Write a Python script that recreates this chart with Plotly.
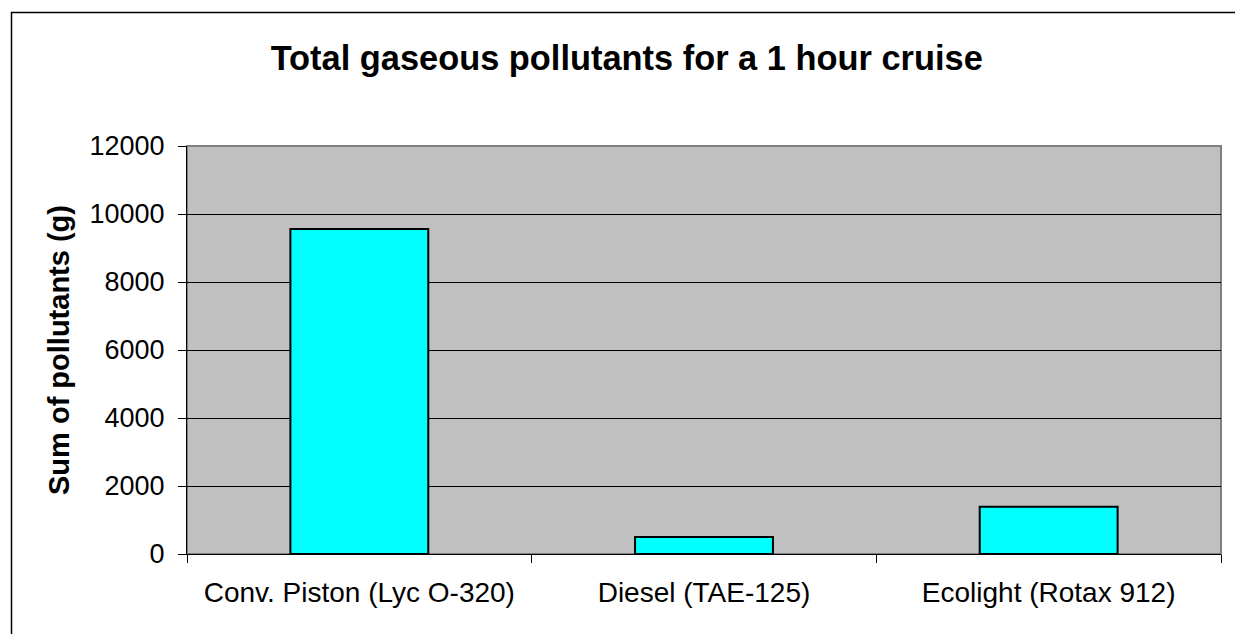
import plotly.graph_objects as go

categories = ["Conv. Piston (Lyc O-320)", "Diesel (TAE-125)", "Ecolight (Rotax 912)"]
values = [9560, 500, 1390]
y_ticks = [0, 2000, 4000, 6000, 8000, 10000, 12000]

FONT = "Liberation Sans, Arial, sans-serif"
OFF = 8  # default page body margin
W, H = 1243 - OFF, 634 - OFF
ML, MR, MT, MB = 187 - OFF, 22, 146 - OFF, 80
pw = W - ML - MR
ph = H - MT - MB

def px_to_paper_x(px):
    return (px - OFF - ML) / pw

def px_to_paper_y(py):
    return (H - MB - (py - OFF)) / ph

fig = go.Figure()
fig.add_trace(go.Bar(
    x=categories, y=values,
    marker=dict(color="#00FFFF", line=dict(color="black", width=2)),
))

fig.update_layout(
    width=W, height=H,
    margin=dict(l=ML, r=MR, t=MT, b=MB, pad=0),
    paper_bgcolor="white",
    plot_bgcolor="#C0C0C0",
    bargap=0.6,
    showlegend=False,
    font=dict(family=FONT, color="black"),
    title=dict(
        text="<b>Total gaseous pollutants for a 1 hour cruise</b>",
        font=dict(family=FONT, size=34.4, color="black"),
        x=(626.7 - OFF) / W, xref="container", xanchor="center",
        y=1 - (58 - OFF) / H, yref="container", yanchor="middle",
    ),
    xaxis=dict(
        type="category",
        showgrid=False,
        ticks="outside", ticklen=8, tickcolor="black", tickwidth=1,
        tickson="boundaries",
        showline=True, linecolor="black", linewidth=1,
        tickfont=dict(family=FONT, size=28, color="black"),
        ticklabelstandoff=13,
    ),
    yaxis=dict(
        range=[0, 12000],
        tickvals=y_ticks,
        ticktext=[str(v) for v in y_ticks],
        showgrid=True, gridcolor="black", gridwidth=1,
        ticks="outside", ticklen=8, tickcolor="black", tickwidth=1,
        showline=True, linecolor="black", linewidth=1,
        zeroline=False,
        tickfont=dict(family=FONT, size=27, color="black"),
        ticklabelstandoff=8,
        title=dict(text="<b>Sum of pollutants (g)</b>",
                   font=dict(family=FONT, size=29, color="black"),
                   standoff=11),
    ),
    shapes=[
        dict(type="rect", xref="paper", yref="paper", x0=0, x1=1, y0=0, y1=1,
             line=dict(color="#808080", width=2), layer="below"),
        dict(type="rect", xref="paper", yref="paper",
             x0=px_to_paper_x(11.5), x1=px_to_paper_x(1239),
             y0=px_to_paper_y(645), y1=px_to_paper_y(12.5),
             line=dict(color="black", width=1.5)),
    ],
)

fig.write_html("out.html")
